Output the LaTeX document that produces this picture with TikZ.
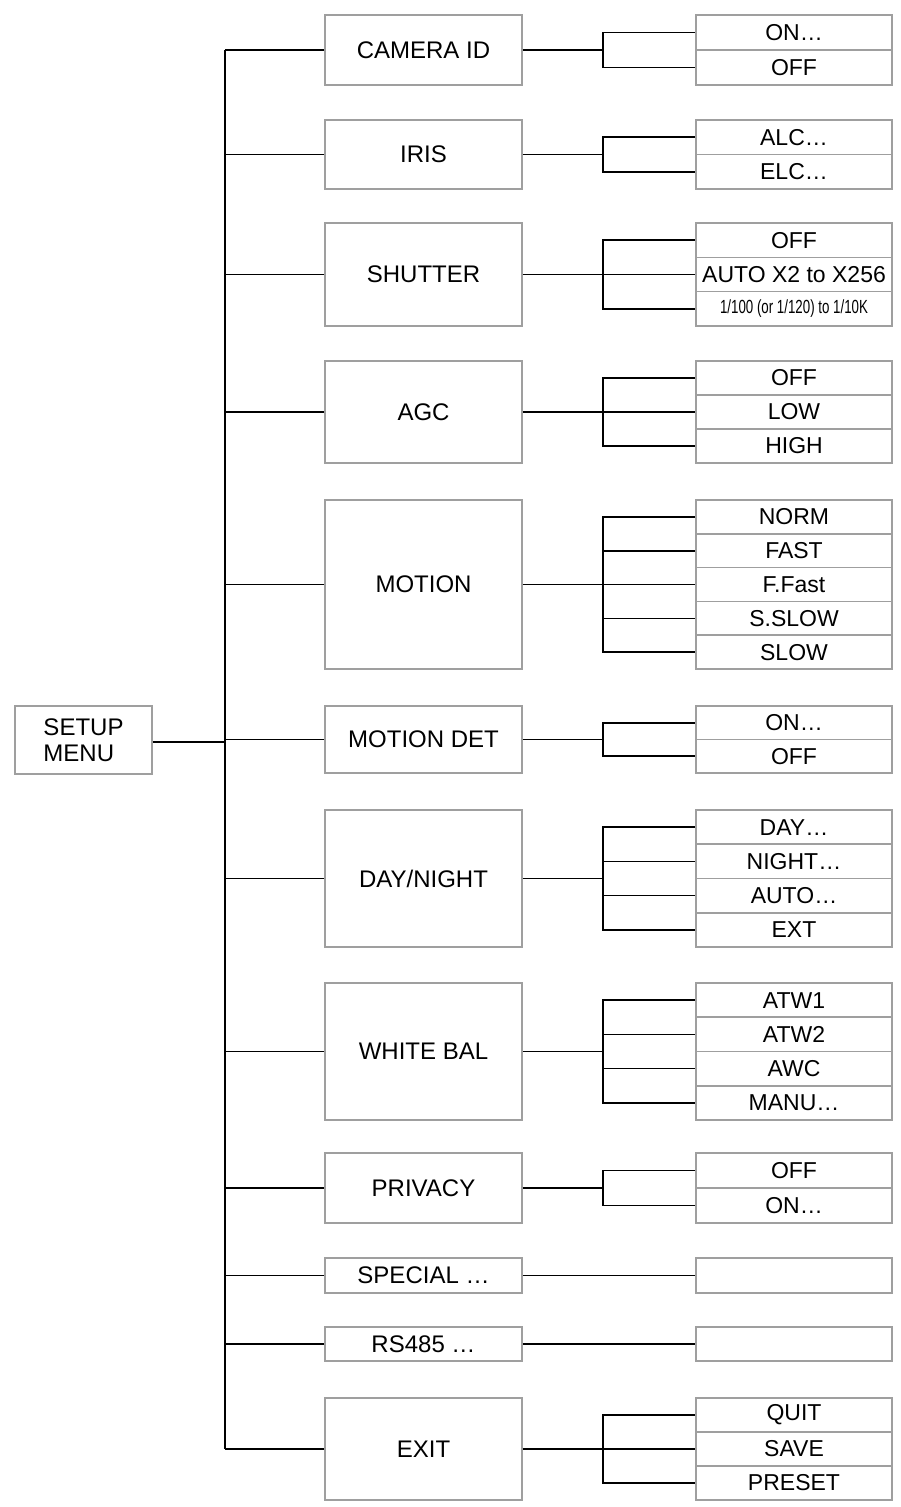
\documentclass[tikz,border=0pt]{standalone}
\usepackage{fontspec}
\setmainfont{Liberation Sans}
\usetikzlibrary{positioning,calc}

\tikzset{
  menubox/.style={draw=gray!75,line width=1.6pt,minimum width=197pt,inner sep=0pt,
    font=\fontsize{24}{26}\selectfont},
  optbox/.style={draw=gray!75,line width=1.6pt,minimum width=196pt,inner sep=0pt,
    font=\fontsize{23}{25}\selectfont},
  link/.style={black,line width=1.6pt}
}

\begin{document}
\begin{tikzpicture}[x=1pt,y=-1pt]
    \useasboundingbox (0,0) rectangle (901,1507);
    % === SETUP ===
    \node[menubox,minimum width=137pt,minimum height=68pt,align=left] (setup) at (83.5,740) {SETUP\\MENU};
    \coordinate (tr) at (225,742);
    \draw[link] (setup.east |- tr) -- (tr);

    % === MENUS ===
    \foreach \nm/\ya/\yb/\txt/\n/\opts in {
        cam/15/85/{CAMERA ID}/2/{ON…,OFF},
        iris/120/189/{IRIS}/2/{ALC…,ELC…},
        shut/223/326/{SHUTTER}/3/{OFF,AUTO X2 to X256,{\fontsize{19}{20}\selectfont\scalebox{0.7}[1]{1/100 (or 1/120) to 1/10K}}},
        agc/361/463/{AGC}/3/{OFF,LOW,HIGH},
        mot/500/669/{MOTION}/5/{NORM,FAST,F.Fast,S.SLOW,SLOW},
        det/706/773/{MOTION DET}/2/{ON…,OFF},
        day/810/947/{DAY/NIGHT}/4/{DAY…,NIGHT…,AUTO…,EXT},
        wb/983/1120/{WHITE BAL}/4/{ATW1,ATW2,AWC,MANU…},
        priv/1153/1223/{PRIVACY}/2/{OFF,ON…},
        spec/1258/1293/{SPECIAL …}/1/{\relax},
        rs/1327/1361/{RS485 …}/1/{\relax},
        exit/1398/1500/{EXIT}/3/{QUIT,SAVE,PRESET}} {
        \pgfmathsetmacro\h{\yb-\ya}
        \pgfmathsetmacro\yc{(\ya+\yb)/2}
        \pgfmathsetmacro\hc{\h/\n}
        \node[menubox,minimum height=\h pt] (\nm) at (423.5,\yc) {\txt};
        \draw[link] (\nm.west) -- (\nm.west -| tr);
        \draw[link] (\nm.east) -- ++(80,0) coordinate (\nm-b);
        \foreach \o [count=\i] in \opts {
            \pgfmathsetmacro\yo{\ya+(\i-0.5)*\hc}
            \node[optbox,minimum height=\hc pt] (\nm-\i) at (794,\yo) {\o};
            \draw[link] (\nm-b) |- (\nm-\i.west);
        }
    }
    % Tronc
    \draw[link] (cam.west -| tr) -- (exit.west -| tr);
\end{tikzpicture}
\end{document}
